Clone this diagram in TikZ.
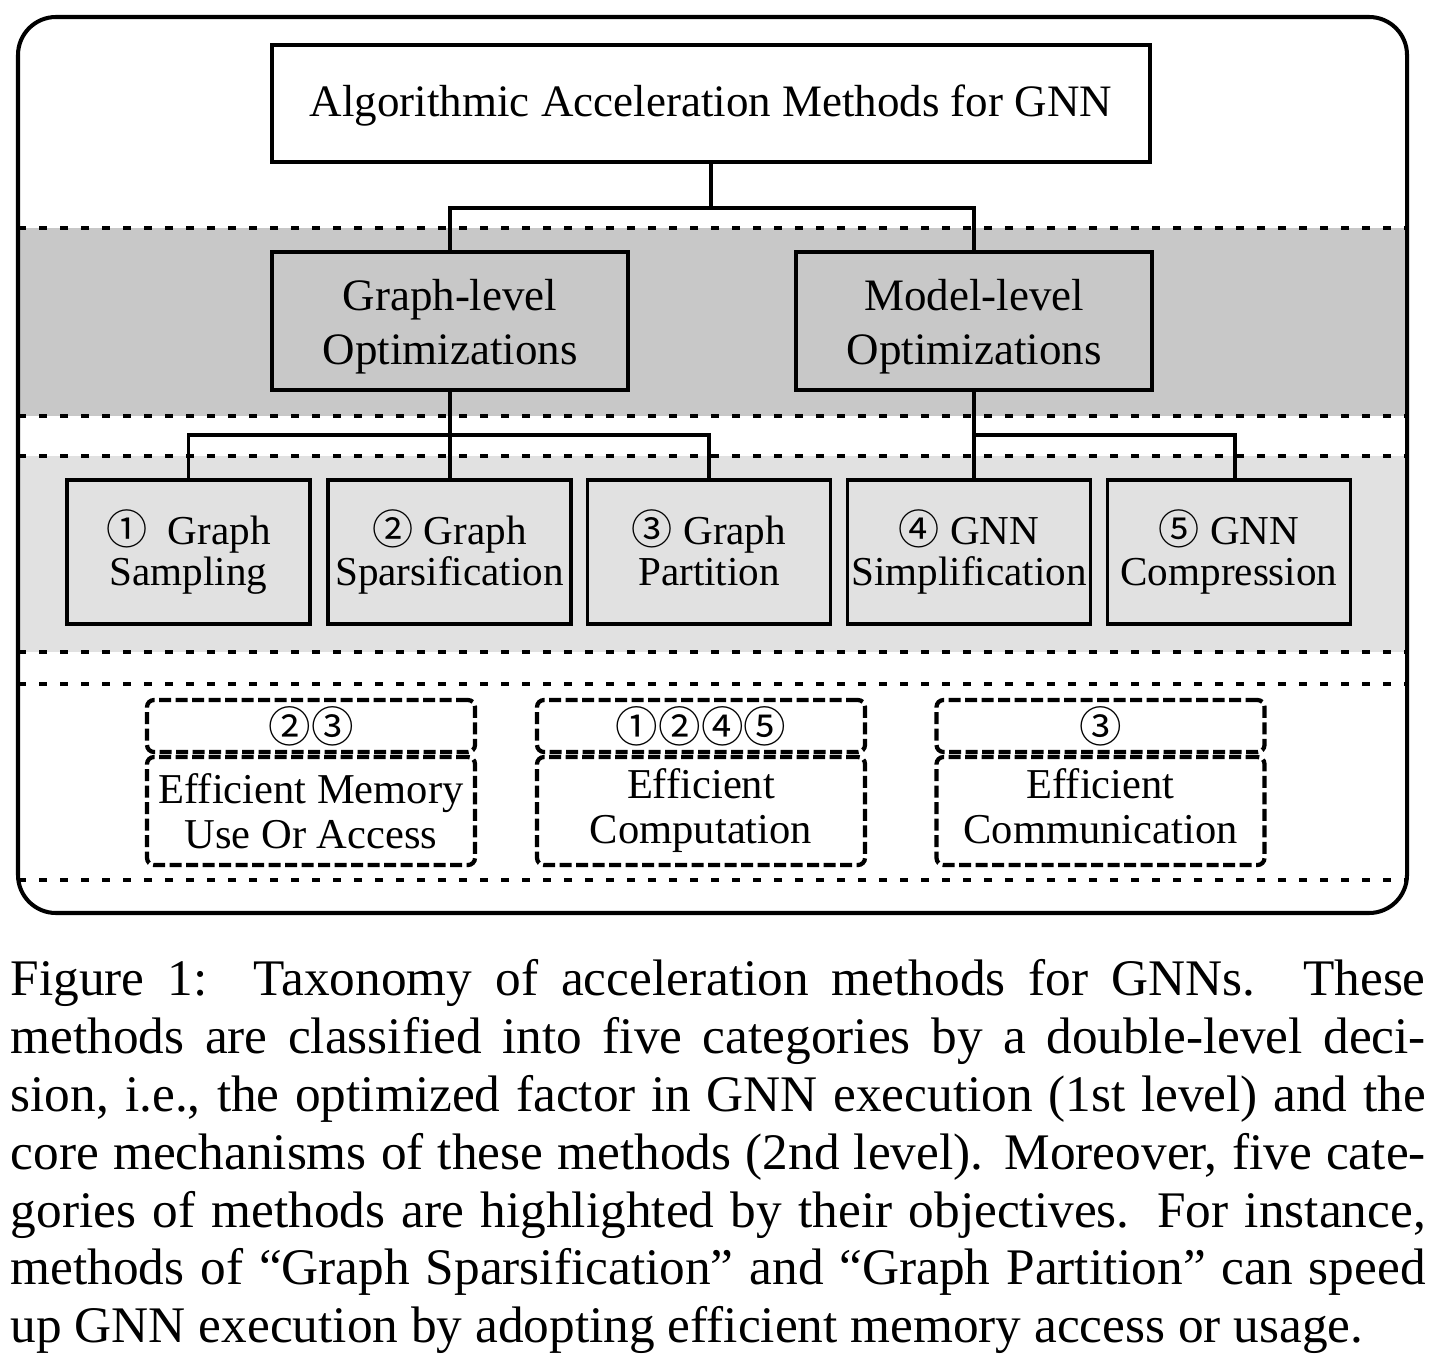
\documentclass[tikz,border=0pt]{standalone}
\usepackage{fontspec}
\setmainfont{Liberation Serif}
\newfontfamily\numfont{Noto Sans CJK SC}

\definecolor{darkband}{RGB}{200,200,200}
\definecolor{lightband}{RGB}{225,225,225}

\tikzset{
  solidbox/.style={draw, line width=1pt, align=center, inner sep=1pt},
  leafbox/.style={solidbox, fill=lightband, minimum width=2.43cm, minimum height=1.44cm,
    font=\fontsize{11.7}{11.8}\selectfont},
  goalbox/.style={draw, line width=1.2pt, dash pattern=on 0.12cm off 0.045cm,
    rounded corners=0.07cm, minimum width=3.28cm, align=center, inner sep=1pt,
    font=\fontsize{12.1}{12.8}\selectfont},
  bandline/.style={line width=0.95pt, dash pattern=on 0.08cm off 0.13cm},
  link/.style={line width=1pt},
}

\begin{document}
\begin{tikzpicture}
  \useasboundingbox (0,0) rectangle (14.5,-13.66);

  % bands
  \fill[darkband] (0.18,-2.28) rectangle (14.07,-4.16);
  \fill[lightband] (0.18,-4.56) rectangle (14.07,-6.52);
  \foreach \y in {2.28,4.16,4.56,6.52,6.84,8.80}
    \draw[bandline] (0.18,-\y) -- (14.07,-\y);
  \draw[line width=1.15pt, rounded corners=0.38cm] (0.18,-0.17) rectangle (14.07,-9.13);

  \node[solidbox, fill=white, minimum width=8.78cm, minimum height=1.17cm,
    font=\fontsize{12.8}{15}\selectfont] (title) at (7.11,-1.035)
    {\rule{0pt}{10pt}Algorithmic Acceleration Methods for GNN};

  \node[solidbox, fill=darkband, minimum width=3.56cm, minimum height=1.38cm,
    font=\fontsize{12.8}{15.3}\selectfont] (graphlvl) at (4.50,-3.21)
    {\rule{0pt}{12.2pt}Graph-level\\Optimizations};
  \node[solidbox, fill=darkband, minimum width=3.56cm, minimum height=1.38cm,
    font=\fontsize{12.8}{15.3}\selectfont] (modellvl) at (9.74,-3.21)
    {\rule{0pt}{12.2pt}Model-level\\Optimizations};

  \node[leafbox] (sampling) at (1.885,-5.52) {{\numfont ①}\ \ Graph\\Sampling};
  \node[leafbox] (sparsify) at (4.495,-5.52) {{\numfont ②} Graph\\Sparsification};
  \node[leafbox] (partition) at (7.09,-5.52) {{\numfont ③} Graph\\Partition\vphantom{p}};
  \node[leafbox] (simplify) at (9.69,-5.52) {{\numfont ④} GNN\\Simplification};
  \node[leafbox] (compress) at (12.29,-5.52) {{\numfont ⑤} GNN\\Compression};

  \draw[link] (title.south) -- ++(0,-0.44) -| (graphlvl.north);
  \draw[link] (title.south) -- ++(0,-0.44) -| (modellvl.north);
  \draw[link] (graphlvl.south) -- ++(0,-0.43) -| (sampling.north);
  \draw[link] (graphlvl.south) -- (graphlvl.south |- sparsify.north);
  \draw[link] (graphlvl.south) -- ++(0,-0.43) -| (partition.north);
  \draw[link] (modellvl.south) -- (modellvl.south |- simplify.north);
  \draw[link] (modellvl.south) -- ++(0,-0.43) -| ([xshift=0.06cm]compress.north);

  % objectives
  \node[goalbox, minimum height=0.52cm] (memtag) at (3.11,-7.26) {\numfont ②③};
  \node[goalbox, minimum height=1.08cm] (memory) at (3.11,-8.11) {Efficient Memory\\Use Or Access};
  \node[goalbox, minimum height=0.52cm] (comptag) at (7.01,-7.26) {\numfont ①②④⑤};
  \node[goalbox, minimum height=1.08cm] (compute) at (7.01,-8.11) {Efficient\\Computation};
  \node[goalbox, minimum height=0.52cm] (commtag) at (11.005,-7.26) {\numfont ③};
  \node[goalbox, minimum height=1.08cm] (commun) at (11.005,-8.11) {Efficient\\Communication\vphantom{p}};

  \node[anchor=north west, inner sep=0pt, text width=14.15cm, align=justify,
    font=\fontsize{14.6}{16.45}\selectfont] (caption) at (0.10,-9.59)
    {Figure 1:\ \ Taxonomy of acceleration methods for GNNs. These\linebreak
    methods are classified into five categories by a double-level deci-\linebreak
    sion, i.e., the optimized factor in GNN execution (1st level) and the\linebreak
    core mechanisms of these methods (2nd level). Moreover, five cate-\linebreak
    gories of methods are highlighted by their objectives. For instance,\linebreak
    methods of “Graph Sparsification” and “Graph Partition” can speed\linebreak
    up GNN execution by adopting efficient memory access or usage.};
\end{tikzpicture}
\end{document}
